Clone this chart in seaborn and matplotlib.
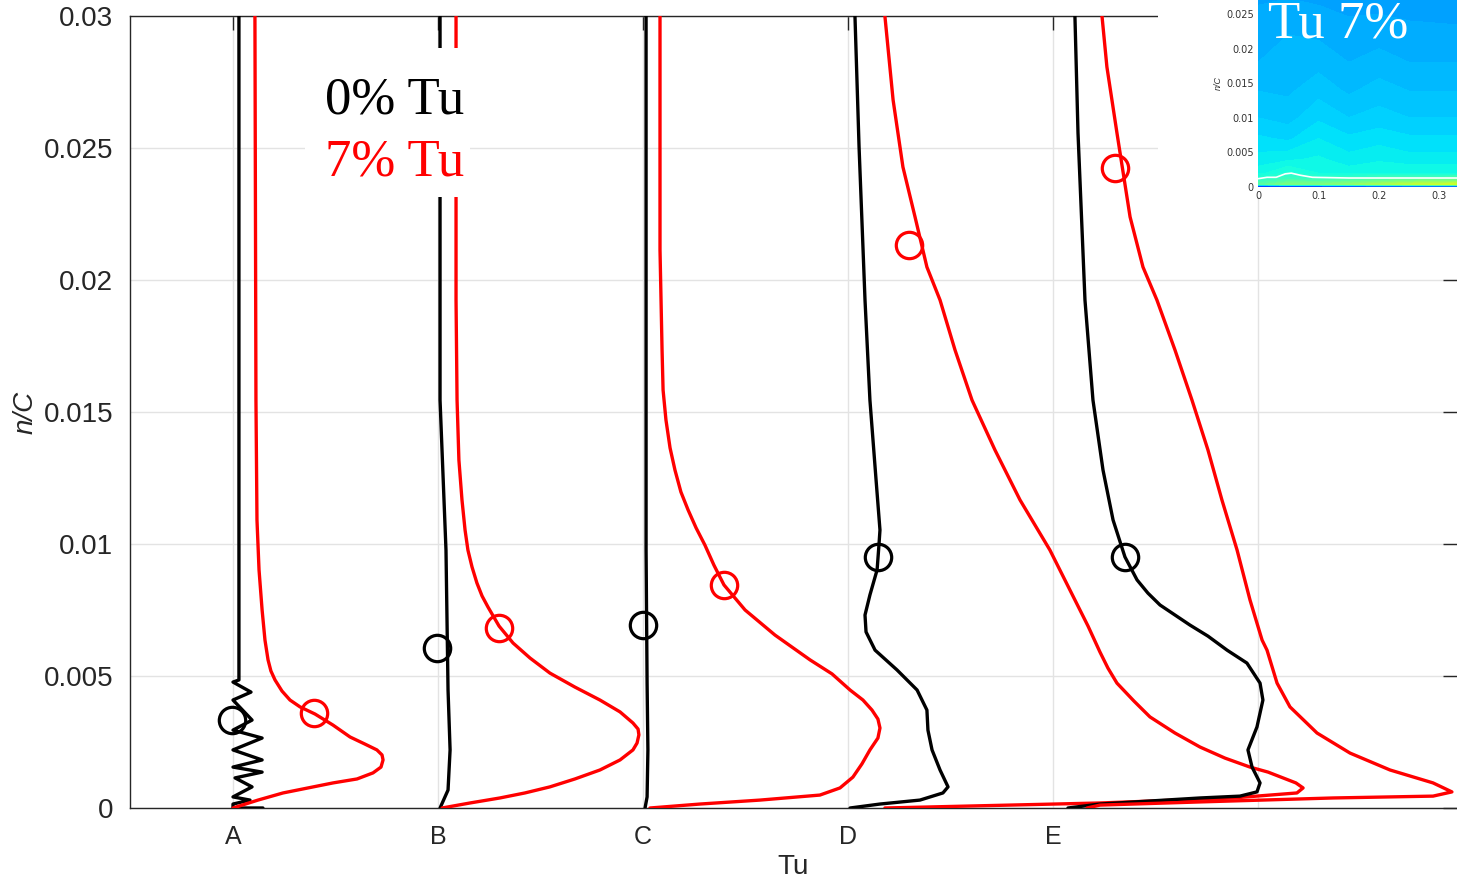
import numpy as np
import pandas as pd
import matplotlib
matplotlib.use("Agg")
import matplotlib.pyplot as plt
import seaborn as sns
from matplotlib.patches import Rectangle

# ---------------- data ----------------
stations = ["A", "B", "C", "D", "E"]
station_x = [1, 2, 3, 4, 5]

# profiles: horizontal offset (Tu, in station-spacing units) vs n/C
a0_tu = [0.029, 0.029, 0.0, 0.088, 0.0, 0.093, 0.0, 0.142, 0.0, 0.142, 0.0, 0.142, 0.010, 0.093, 0.0, 0.083, 0.0, 0.0, 0.146]
a0_n = [0.03, 0.00485, 0.00477, 0.00439, 0.00409, 0.00333, 0.00295, 0.00265, 0.00220, 0.00182, 0.00155, 0.00136, 0.00114, 0.00080, 0.00042, 0.00030, 0.00015, 0.0, 0.0]
a7_tu = [0.107, 0.112, 0.117, 0.127, 0.142, 0.156, 0.171, 0.185, 0.205, 0.239, 0.278, 0.327, 0.400, 0.488, 0.571, 0.644, 0.702, 0.727, 0.732, 0.722, 0.683, 0.605, 0.488, 0.366, 0.244, 0.122, 0.0]
a7_n = [0.03, 0.01545, 0.01091, 0.00902, 0.0075, 0.00636, 0.00561, 0.00519, 0.00485, 0.00443, 0.00409, 0.00383, 0.00356, 0.00314, 0.00269, 0.00242, 0.0022, 0.00201, 0.00182, 0.00155, 0.00133, 0.0011, 0.00095, 0.00076, 0.00057, 0.0003, 0.0]

b0_tu = [0.010, 0.010, 0.039, 0.049, 0.059, 0.049, 0.010]
b0_n = [0.03, 0.01545, 0.00977, 0.00447, 0.0022, 0.00068, 0.0]
b7_tu = [0.088, 0.088, 0.093, 0.102, 0.117, 0.132, 0.146, 0.166, 0.190, 0.215, 0.244, 0.298, 0.366, 0.449, 0.546, 0.668, 0.790, 0.888, 0.951, 0.976, 0.980, 0.971, 0.951, 0.888, 0.790, 0.668, 0.546, 0.424, 0.302, 0.156, 0.020]
b7_n = [0.03, 0.01924, 0.01545, 0.01318, 0.01167, 0.01053, 0.00977, 0.00913, 0.00852, 0.00803, 0.00761, 0.00689, 0.00625, 0.00568, 0.00511, 0.00458, 0.00409, 0.00364, 0.00322, 0.00299, 0.00277, 0.00246, 0.0022, 0.00182, 0.00144, 0.0011, 0.0008, 0.00057, 0.00038, 0.00019, 0.0]

c0_tu = [0.015, 0.015, 0.020, 0.024, 0.020, 0.010]
c0_n = [0.03, 0.00977, 0.00473, 0.0022, 0.00042, 0.0]
c7_tu = [0.083, 0.083, 0.093, 0.098, 0.112, 0.132, 0.156, 0.185, 0.220, 0.259, 0.302, 0.346, 0.395, 0.498, 0.644, 0.815, 0.922, 1.010, 1.073, 1.117, 1.146, 1.156, 1.146, 1.107, 1.068, 1.024, 0.961, 0.863, 0.571, 0.278, 0.034]
c7_n = [0.03, 0.02114, 0.01735, 0.01583, 0.0147, 0.01364, 0.0128, 0.01197, 0.01129, 0.01061, 0.00996, 0.0092, 0.00845, 0.0075, 0.00655, 0.00561, 0.00508, 0.00447, 0.00409, 0.00371, 0.00337, 0.00303, 0.00265, 0.0022, 0.00167, 0.00117, 0.00076, 0.00049, 0.0003, 0.00015, 0.0]

d0_tu = [0.034, 0.054, 0.083, 0.107, 0.137, 0.156, 0.151, 0.142, 0.107, 0.083, 0.088, 0.132, 0.239, 0.337, 0.385, 0.390, 0.410, 0.449, 0.488, 0.463, 0.351, 0.156, 0.010]
d0_n = [0.03, 0.02504, 0.01924, 0.01545, 0.01242, 0.01053, 0.00996, 0.00902, 0.00807, 0.00731, 0.00667, 0.00598, 0.00523, 0.00447, 0.00371, 0.00295, 0.0022, 0.00144, 0.0008, 0.00057, 0.0003, 0.00015, 0.0]
d7_tu = [0.180, 0.220, 0.268, 0.327, 0.385, 0.449, 0.522, 0.605, 0.717, 0.839, 0.985, 1.107, 1.171, 1.229, 1.268, 1.312, 1.395, 1.473, 1.595, 1.717, 1.839, 1.961, 2.049, 2.122, 2.185, 2.220, 2.190, 1.878, 1.229, 0.180]
d7_n = [0.03, 0.02682, 0.02428, 0.02239, 0.02049, 0.01924, 0.01735, 0.01545, 0.01356, 0.01167, 0.00977, 0.00788, 0.00689, 0.00591, 0.0053, 0.00473, 0.00405, 0.00345, 0.00284, 0.00231, 0.00189, 0.00155, 0.00136, 0.00114, 0.00095, 0.00076, 0.00057, 0.00038, 0.00019, 0.0]

e0_tu = [0.107, 0.122, 0.156, 0.195, 0.244, 0.293, 0.351, 0.410, 0.463, 0.522, 0.595, 0.668, 0.756, 0.849, 0.946, 1.010, 1.024, 0.995, 0.951, 0.971, 1.010, 0.995, 0.912, 0.717, 0.229, 0.073]
e0_n = [0.03, 0.02557, 0.01924, 0.01545, 0.0128, 0.01091, 0.00951, 0.00864, 0.00814, 0.00769, 0.00731, 0.00693, 0.00651, 0.00598, 0.00549, 0.00473, 0.00409, 0.00307, 0.0022, 0.00155, 0.00095, 0.00061, 0.00045, 0.00038, 0.00015, 0.0]
e7_tu = [0.239, 0.263, 0.312, 0.376, 0.439, 0.507, 0.595, 0.678, 0.756, 0.824, 0.898, 0.961, 1.020, 1.044, 1.093, 1.156, 1.288, 1.449, 1.644, 1.854, 1.946, 1.854, 1.366, 0.717, 0.229, 0.166]
e7_n = [0.03, 0.02807, 0.02557, 0.02239, 0.02049, 0.01924, 0.01735, 0.01545, 0.01356, 0.01167, 0.00977, 0.00788, 0.00636, 0.00598, 0.00473, 0.00383, 0.00284, 0.00208, 0.00144, 0.00095, 0.00061, 0.00045, 0.00038, 0.00023, 0.00011, 0.0]

# boundary-layer-edge markers
circ0_tu = [-0.005, -0.005, 0.0, 0.146, 0.351]
circ0_n = [0.00333, 0.00606, 0.00693, 0.00951, 0.00951]
circ7_tu = [0.395, 0.298, 0.395, 0.298, 0.302]
circ7_n = [0.0036, 0.00682, 0.00845, 0.02133, 0.02424]

yticks = [0, 0.005, 0.01, 0.015, 0.02, 0.025, 0.03]
ytick_labels = ["0", "0.005", "0.01", "0.015", "0.02", "0.025", "0.03"]

# inset contour field (Tu 7%)
inset_x = [0, 0.05, 0.1, 0.15, 0.2, 0.25, 0.33]
inset_n = [0, 0.0004, 0.0012, 0.002, 0.004, 0.007, 0.01, 0.014, 0.018, 0.022, 0.026, 0.03]
inset_field = [
    [0.05, 0.05, 0.05, 0.05, 0.05, 0.05, 0.05],
    [0.45, 0.50, 0.50, 0.52, 0.55, 0.58, 0.60],
    [0.40, 0.42, 0.41, 0.42, 0.43, 0.44, 0.45],
    [0.370, 0.390, 0.375, 0.370, 0.375, 0.375, 0.375],
    [0.355, 0.360, 0.365, 0.355, 0.360, 0.355, 0.355],
    [0.340, 0.335, 0.350, 0.340, 0.345, 0.340, 0.340],
    [0.325, 0.320, 0.335, 0.325, 0.330, 0.325, 0.325],
    [0.312, 0.310, 0.320, 0.310, 0.318, 0.312, 0.312],
    [0.300, 0.305, 0.308, 0.300, 0.305, 0.300, 0.300],
    [0.295, 0.300, 0.298, 0.292, 0.295, 0.290, 0.290],
    [0.288, 0.290, 0.288, 0.285, 0.285, 0.285, 0.283],
    [0.280, 0.282, 0.280, 0.278, 0.278, 0.278, 0.276],
]
inset_line_x = [0, 0.015, 0.03, 0.045, 0.055, 0.07, 0.09, 0.15, 0.33]
inset_line_n = [0.0012, 0.0014, 0.0014, 0.0019, 0.0020, 0.0017, 0.0014, 0.0013, 0.0013]

# ---------------- style ----------------
sns.set_style("white")
plt.rcParams["font.family"] = ["Liberation Sans", "DejaVu Sans"]
ink = "#262626"

W, H = 1457, 881
fig = plt.figure(figsize=(W / 100, H / 100), dpi=100)
ax = fig.add_axes([130 / W, 1 - 808 / H, (W - 130) / W, 792 / H])
ax.set_zorder(0)

profiles = [
    (a0_tu, a0_n, a7_tu, a7_n),
    (b0_tu, b0_n, b7_tu, b7_n),
    (c0_tu, c0_n, c7_tu, c7_n),
    (d0_tu, d0_n, d7_tu, d7_n),
    (e0_tu, e0_n, e7_tu, e7_n),
]
lw = 2.4
for pos, (t0, n0, t7, n7) in zip(station_x, profiles):
    sns.lineplot(x=np.array(t0) + pos, y=n0, sort=False, estimator=None,
                 color="black", linewidth=lw, ax=ax, zorder=3)
    sns.lineplot(x=np.array(t7) + pos, y=n7, sort=False, estimator=None,
                 color="red", linewidth=lw, ax=ax, zorder=3)
for line in ax.get_lines():
    line.set_solid_joinstyle("round")
    line.set_solid_capstyle("round")

ax.plot(np.array(circ0_tu) + np.array(station_x), circ0_n, linestyle="none",
        marker="o", ms=19, mfc="none", mec="black", mew=2.3, zorder=4)
ax.plot(np.array(circ7_tu) + np.array(station_x), circ7_n, linestyle="none",
        marker="o", ms=19, mfc="none", mec="red", mew=2.3, zorder=4)

ax.set_xlim(0.4976, 0.4976 + (W - 130) / 205)
ax.set_ylim(0, 0.03)
ax.set_xticks(station_x + [6])
ax.set_xticklabels(stations + [""])
ax.set_yticks(yticks)
ax.set_yticklabels(ytick_labels)
ax.grid(True, color="#e3e3e3", linewidth=1)
ax.set_axisbelow(True)
ax.tick_params(axis="both", direction="in", length=10, width=1, colors=ink,
               top=True, right=True)
ax.tick_params(axis="y", labelsize=20, pad=12)
ax.tick_params(axis="x", labelsize=18, pad=12)
for s in ax.spines.values():
    s.set_color(ink)
    s.set_linewidth(1)
ax.spines["right"].set_visible(False)
ax.set_xlabel("Tu", fontsize=20, color=ink, labelpad=4)
ax.set_ylabel("n/C", fontsize=20, color=ink, fontstyle="italic", labelpad=4)

# legend-like text block
ax.add_patch(Rectangle(((305 - 130) / 1327, (808 - 197) / 792),
                       (470 - 305) / 1327, (197 - 48) / 792,
                       transform=ax.transAxes, facecolor="white",
                       edgecolor="none", zorder=5))
ax.text((325 - 130) / 1327, (808 - 113) / 792, "0% Tu", transform=ax.transAxes,
        fontsize=38, family="Liberation Serif", color="black", va="baseline", zorder=6)
ax.text((325 - 130) / 1327, (808 - 175) / 792, "7% Tu", transform=ax.transAxes,
        fontsize=38, family="Liberation Serif", color="red", va="baseline", zorder=6)

# white area behind inset
fig.add_artist(Rectangle((1158 / W, 1 - 197 / H), (W - 1158) / W, 197 / H,
                         transform=fig.transFigure, facecolor="white",
                         edgecolor="none", zorder=1))

# inset
iax = fig.add_axes([1258 / W, 1 - 187 / H, 0.33 * 605 / W, 0.03 * 6920 / H])
iax.set_zorder(2)
X, N = np.meshgrid(inset_x, inset_n)
iax.contourf(X, N, np.array(inset_field), levels=np.arange(0, 1.0001, 0.0125),
             cmap="jet", vmin=0, vmax=1)
sns.lineplot(x=inset_line_x, y=inset_line_n, sort=False, estimator=None,
             color="white", linewidth=1.2, ax=iax)
iax.set_xlim(0, 0.33)
iax.set_ylim(0, 0.03)
iax.set_xticks([0, 0.1, 0.2, 0.3])
iax.set_xticklabels(["0", "0.1", "0.2", "0.3"])
iax.set_yticks([0, 0.005, 0.01, 0.015, 0.02, 0.025])
iax.set_yticklabels(["0", "0.005", "0.01", "0.015", "0.02", "0.025"])
iax.tick_params(length=0, labelsize=7, colors="#333333", pad=3)
for lab in iax.get_xticklabels() + iax.get_yticklabels():
    lab.set_family("DejaVu Sans")
for s in iax.spines.values():
    s.set_visible(False)
iax.set_xlabel("")
iax.set_ylabel("n/C", fontsize=6.5, fontstyle="italic", color="#333333", labelpad=2)
fig.text(1268 / W, 1 - 38 / H, "Tu 7%", fontsize=38, family="Liberation Serif",
         color="white", va="baseline", zorder=3)

fig.savefig("out.png", dpi=100)
